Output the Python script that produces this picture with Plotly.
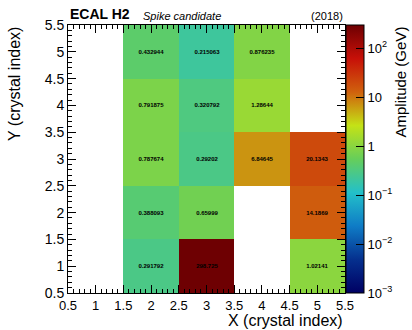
import math
import plotly.graph_objects as go

x_idx = [1, 2, 3, 4, 5]
y_idx = [1, 2, 3, 4, 5]
# amplitude (GeV) per crystal; rows are y=1..5, columns x=1..5 (None = empty)
amp = [
    [None, 0.291792, 298.725, None, 1.02141],
    [None, 0.388093, 0.65999, None, 14.1869],
    [None, 0.787674, 0.29202, 6.84645, 20.1343],
    [None, 0.791875, 0.320792, 1.28644, None],
    [None, 0.432944, 0.215063, 0.876235, None],
]
axis_tickvals = [0.5, 1, 1.5, 2, 2.5, 3, 3.5, 4, 4.5, 5, 5.5]
axis_ticktext = ["0.5", "1", "1.5", "2", "2.5", "3", "3.5", "4", "4.5", "5", "5.5"]
cb_tickvals = [1e-3, 1e-2, 1e-1, 1, 10, 100]
cb_ticktext = ["10<sup>\u22123</sup>", "10<sup>\u22122</sup>", "10<sup>\u22121</sup>", "1", "10", "10<sup>2</sup>"]
zmin_val = 1e-3
zmax_val = 298.725

# ROOT kRainBow palette
stops = [0.0, 0.125, 0.25, 0.375, 0.5, 0.625, 0.75, 0.875, 1.0]
red = [0, 5, 15, 35, 102, 196, 208, 199, 110]
green = [0, 48, 124, 192, 206, 226, 97, 16, 0]
blue = [99, 142, 198, 201, 90, 22, 13, 8, 2]
cscale = [[s, f"rgb({r},{g},{b})"] for s, r, g, b in zip(stops, red, green, blue)]

zlog = [[(math.log10(v) if v is not None else None) for v in row] for row in amp]
text = [[(f"{v:g}" if v is not None else "") for v in row] for row in amp]

W, H = 412, 330
L, R, T, B = 68, 67, 25, 37
pw = W - L - R
ph = H - T - B

lmin, lmax = math.log10(zmin_val), math.log10(zmax_val)

fig = go.Figure()
fig.add_trace(go.Heatmap(
    x=x_idx, y=y_idx, z=zlog, text=text,
    texttemplate="<b>%{text}</b>",
    textfont=dict(size=6, color="black", family="Liberation Sans"),
    colorscale=cscale, zmin=lmin, zmax=lmax,
    hoverinfo="skip",
    colorbar=dict(
        x=1 + 1 / pw, xanchor="left", xpad=0, y=0.5, yanchor="middle",
        len=1, lenmode="fraction", ypad=0, thickness=18,
        outlinewidth=1, outlinecolor="black",
        tickvals=[math.log10(v) for v in cb_tickvals], ticktext=cb_ticktext,
        ticks="inside", ticklen=8, tickcolor="black",
        tickfont=dict(size=13, family="Liberation Sans", color="black"),
    ),
))

axis_common = dict(
    showline=True, linecolor="black", linewidth=1, mirror="ticks",
    ticks="inside", ticklen=8, tickcolor="black",
    tickmode="array", tickvals=axis_tickvals, ticktext=axis_ticktext,
    minor=dict(dtick=0.1, tick0=0.5, ticks="inside", ticklen=4, tickcolor="black"),
    showgrid=False, zeroline=False,
    tickangle=0, automargin=False,
)
fig.update_xaxes(range=[0.5, 5.5], tickfont=dict(size=13, family="Liberation Sans", color="black"),
                 **axis_common)
fig.update_yaxes(range=[0.5, 5.5], tickfont=dict(size=14, family="Liberation Sans", color="black"),
                 **axis_common)

# colorbar minor ticks (log decades)
cb_right = 1 + (1 + 18) / pw
shapes = []
for d in range(-3, 3):
    for m in range(2, 10):
        v = m * 10 ** d
        if v > zmax_val:
            continue
        yy = (math.log10(v) - lmin) / (lmax - lmin)
        shapes.append(dict(type="line", xref="paper", yref="paper",
                           x0=cb_right - 4 / pw, x1=cb_right, y0=yy, y1=yy,
                           line=dict(color="black", width=1)))
fig.update_layout(shapes=shapes)

font = "Liberation Sans"
ann = [
    dict(text="<b>ECAL H2</b>", x=0, y=1, xanchor="left", yanchor="bottom", yshift=1,
         font=dict(size=14, family=font, color="black")),
    dict(text="<i>Spike candidate</i>", x=(141 - L) / pw, y=1, xanchor="left", yanchor="bottom", yshift=1,
         font=dict(size=11, family=font, color="black")),
    dict(text="(2018)", x=1, y=1, xanchor="right", yanchor="bottom", yshift=1,
         font=dict(size=11, family=font, color="black")),
    dict(text="X (crystal index)", x=1, y=0, xanchor="right", yanchor="middle", yshift=-27,
         font=dict(size=16, family=font, color="black")),
    dict(text="Y (crystal index)", x=(14 - L) / pw, y=1, xanchor="center", yanchor="top", textangle=-90,
         font=dict(size=16, family=font, color="black")),
    dict(text="Amplitude (GeV)", x=(400 - L) / pw, y=1, xanchor="center", yanchor="top", textangle=-90,
         font=dict(size=15, family=font, color="black")),
]
for a in ann:
    a.update(xref="paper", yref="paper", showarrow=False)
fig.update_layout(
    annotations=ann,
    width=W, height=H,
    margin=dict(l=L, r=R, t=T, b=B, autoexpand=False),
    paper_bgcolor="white", plot_bgcolor="white",
    font=dict(family=font, color="black"),
)
fig.write_html("out.html", config={"displayModeBar": False},
               post_script="document.body.style.margin='0px';")
